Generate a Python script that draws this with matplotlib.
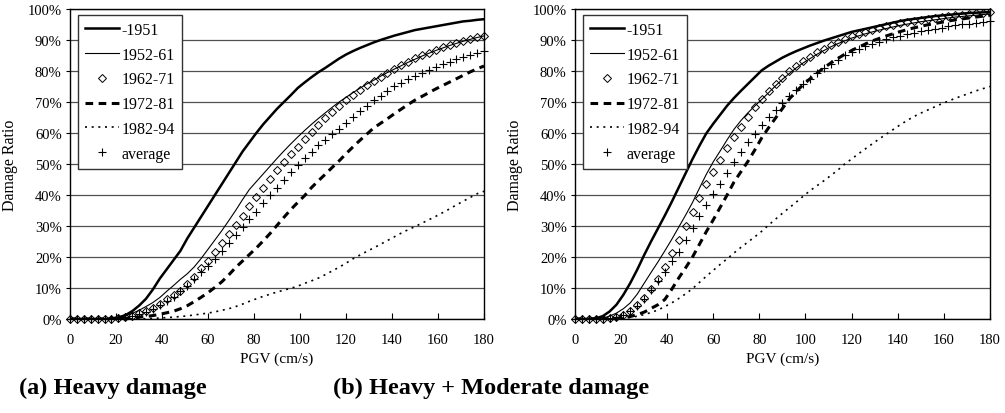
import numpy as np
import matplotlib
matplotlib.use("Agg")
import matplotlib.pyplot as plt
from matplotlib.ticker import PercentFormatter

plt.rcParams['font.family'] = ['Liberation Serif', 'DejaVu Serif']

# PGV (cm/s), one sample every 3 cm/s
pgv = np.arange(0, 181, 3)

# (a) heavy damage ratio, %
heavy_1951 = [0, 0, 0, 0, 0, 0, 0.2, 0.5, 1.2, 2.5,
              4.3, 6.5, 9.5, 13, 16, 19, 22, 26, 29.5, 33,
              36.5, 40, 43.5, 47, 50.5, 54, 57, 60, 62.8, 65.3,
              67.8, 70, 72.2, 74.5, 76.3, 78, 79.6, 81, 82.5, 84,
              85.3, 86.4, 87.4, 88.3, 89.2, 90, 90.7, 91.4, 92, 92.6,
              93.2, 93.6, 94, 94.4, 94.8, 95.2, 95.6, 96, 96.2, 96.5, 96.7]
heavy_5261 = [0, 0, 0, 0, 0, 0, 0.2, 0.5, 1.1, 1.8,
              2.8, 4.0, 5.3, 6.9, 8.9, 10.8, 12.8, 14.6, 16.8, 19.5,
              22.5, 25.5, 28.5, 31.7, 35.0, 38.5, 41.8, 44.3, 46.8, 49.3,
              51.8, 54.2, 56.5, 58.7, 60.8, 62.8, 64.7, 66.5, 68.3, 70.0,
              71.5, 73.0, 74.4, 75.8, 77.0, 78.3, 79.5, 80.6, 81.7, 82.8,
              83.8, 84.8, 85.7, 86.6, 87.4, 88.2, 88.9, 89.6, 90.2, 90.8, 91.3]
heavy_6271 = [0, 0, 0, 0, 0, 0, 0.1, 0.3, 0.6, 1.1,
              1.8, 2.6, 3.6, 4.8, 6.3, 7.6, 9.0, 11.2, 13.5, 16.3,
              18.8, 21.7, 24.5, 27.4, 30.4, 33.3, 36.3, 39.2, 42.2, 45.2,
              47.9, 50.6, 53.1, 55.5, 58.1, 60.4, 62.7, 64.7, 66.8, 68.8,
              70.6, 72.3, 73.9, 75.4, 76.8, 78.2, 79.4, 80.6, 81.9, 83.0,
              84.1, 85.0, 85.9, 86.8, 87.6, 88.3, 89.0, 89.7, 90.3, 90.9, 91.4]
heavy_7281 = [0, 0, 0, 0, 0, 0, 0, 0.1, 0.2, 0.4,
              0.6, 0.8, 1.1, 1.5, 2.0, 2.5, 3.3, 4.3, 5.6, 7.0,
              8.5, 10.2, 12.0, 14.2, 16.6, 18.7, 20.8, 22.9, 25.2, 27.6,
              30.2, 32.8, 35.3, 37.6, 39.8, 42.4, 44.6, 46.7, 48.9, 51.0,
              53.3, 55.5, 57.6, 59.6, 61.6, 63.1, 64.6, 66.2, 67.7, 69.2,
              70.6, 71.8, 73.0, 74.2, 75.3, 76.4, 77.5, 78.6, 79.7, 80.7, 81.6]
heavy_8294 = [0, 0, 0, 0, 0, 0, 0, 0, 0, 0,
              0.05, 0.1, 0.2, 0.3, 0.45, 0.6, 0.8, 1.0, 1.3, 1.6,
              1.9, 2.3, 2.8, 3.3, 4.0, 4.8, 5.7, 6.5, 7.3, 8.0,
              8.7, 9.3, 9.9, 10.6, 11.5, 12.3, 13.2, 14.3, 15.5, 16.7,
              18.0, 19.4, 20.6, 21.8, 22.9, 24.1, 25.3, 26.5, 27.7, 28.8,
              29.8, 30.9, 32.0, 33.1, 34.3, 35.5, 36.8, 38.0, 39.2, 40.4, 41.2]
heavy_avg = [0, 0, 0, 0, 0, 0, 0.1, 0.3, 0.6, 1.0,
             1.6, 2.4, 3.3, 4.4, 5.7, 7.2, 8.9, 10.8, 12.8, 15.1,
             17.1, 19.4, 21.8, 24.6, 27.0, 29.6, 32.1, 34.5, 37.5, 39.9,
             42.1, 44.9, 47.3, 49.7, 51.9, 54.0, 56.0, 57.8, 59.7, 61.4,
             63.2, 65.1, 67.0, 68.8, 70.6, 72.0, 73.5, 75.0, 76.2, 77.4,
             78.5, 79.5, 80.4, 81.3, 82.2, 83.0, 83.8, 84.5, 85.2, 85.8, 86.4]

# (b) heavy + moderate damage ratio, %
hm_1951 = [0, 0, 0, 0.2, 0.9, 2.4, 4.6, 7.8, 11.6, 15.9,
           20.6, 25.0, 29.2, 33.4, 37.8, 42.4, 47.0, 51.6, 55.9, 59.9,
           63.0, 65.9, 68.8, 71.3, 73.6, 75.8, 78.0, 80.2, 81.7, 83.0,
           84.3, 85.4, 86.4, 87.3, 88.2, 89.0, 89.8, 90.5, 91.2, 91.9,
           92.6, 93.1, 93.6, 94.1, 94.6, 95.1, 95.6, 96.1, 96.5, 96.8,
           97.1, 97.4, 97.7, 97.9, 98.1, 98.3, 98.5, 98.7, 98.8, 98.9, 99.0]
hm_5261 = [0, 0, 0, 0, 0.3, 0.9, 1.9, 3.3, 5.2, 8.0,
           11.5, 15.0, 18.4, 22.0, 25.7, 29.6, 33.5, 37.6, 42.2, 46.7,
           50.7, 54.2, 57.8, 61.2, 64.0, 66.5, 68.7, 70.8, 73.0, 75.2,
           77.3, 79.2, 81.0, 82.6, 84.0, 85.4, 86.6, 87.8, 88.8, 89.7,
           90.6, 91.3, 92.0, 92.6, 93.2, 93.7, 94.2, 94.7, 95.1, 95.5,
           95.9, 96.2, 96.5, 96.8, 97.1, 97.4, 97.6, 97.8, 98.0, 98.2, 98.4]
hm_6271 = [0, 0, 0, 0, 0, 0.2, 0.5, 1.4, 2.7, 4.5,
           6.8, 9.7, 13.0, 16.9, 21.3, 25.5, 30.0, 34.4, 39.1, 43.4,
           47.5, 51.3, 55.2, 58.7, 62.0, 65.0, 68.3, 71.0, 73.6, 75.8,
           77.8, 80.0, 81.7, 83.3, 84.6, 86.0, 87.2, 88.4, 89.5, 90.4,
           91.2, 92.0, 92.6, 93.2, 93.8, 94.4, 94.9, 95.4, 95.8, 96.2,
           96.5, 96.8, 97.1, 97.4, 97.7, 97.9, 98.2, 98.4, 98.6, 98.8, 99.0]
hm_7281 = [0, 0, 0, 0, 0, 0, 0.2, 0.4, 0.8, 1.4,
           2.2, 3.4, 4.6, 6.3, 9.6, 13.2, 16.5, 20.0, 24.1, 28.2,
           32.0, 36.0, 40.0, 44.2, 47.5, 50.8, 54.5, 58.4, 61.7, 64.8,
           67.9, 71.0, 73.4, 75.6, 77.5, 79.3, 81.0, 82.6, 84.0, 85.4,
           86.6, 87.7, 88.7, 89.7, 90.5, 91.3, 92.0, 92.7, 93.3, 93.9,
           94.4, 94.9, 95.3, 95.7, 96.1, 96.5, 96.8, 97.1, 97.4, 97.7, 98.0]
hm_8294 = [0, 0, 0, 0, 0, 0, 0.1, 0.3, 0.5, 0.9,
           1.4, 2.1, 2.9, 4.0, 5.2, 6.6, 8.1, 9.8, 11.8, 13.8,
           15.7, 17.6, 19.4, 21.3, 23.1, 24.8, 26.5, 28.3, 30.3, 32.2,
           34.1, 35.9, 37.7, 39.6, 41.4, 43.0, 44.6, 46.3, 48.0, 50.0,
           51.6, 53.3, 54.9, 56.5, 58.1, 59.6, 61.1, 62.6, 64.0, 65.3,
           66.4, 67.4, 68.4, 69.4, 70.3, 71.2, 72.0, 72.8, 73.6, 74.3, 75.0]
hm_avg = [0, 0, 0, 0, 0, 0.2, 0.5, 1.3, 2.5, 4.2,
          6.6, 9.3, 12.4, 15.2, 18.7, 21.7, 25.4, 29.5, 33.2, 36.8,
          40.3, 43.6, 47.1, 50.5, 53.9, 57.0, 59.7, 62.5, 65.1, 67.5,
          69.7, 71.8, 73.9, 75.8, 77.4, 79.3, 80.9, 82.3, 83.6, 85.0,
          86.1, 87.1, 88.0, 88.8, 89.5, 90.2, 90.8, 91.3, 91.8, 92.3,
          92.8, 93.2, 93.6, 94.0, 94.4, 94.7, 95.0, 95.3, 95.6, 95.9, 96.2]

labels = ['-1951', '1952-61', '1962-71', '1972-81', '1982-94', 'average']


def draw_panel(ax, s1, s2, s3, s4, s5, s6):
    ax.plot(pgv, s1, color='black', lw=1.8, label=labels[0])
    ax.plot(pgv, s2, color='black', lw=0.8, label=labels[1])
    ax.plot(pgv, s3, ls='none', marker='D', ms=3.6, mfc='none', mec='black',
            mew=0.7, label=labels[2], clip_on=False)
    ax.plot(pgv, s4, color='black', lw=2.2, dashes=(2.5, 1.8), label=labels[3])
    ax.plot(pgv, s5, color='black', lw=1.2, dashes=(1.2, 2.8), label=labels[4])
    ax.plot(pgv, s6, ls='none', marker='+', ms=6, mew=0.8, color='black',
            label=labels[5], clip_on=False)

    ax.set_xlim(0, 180)
    ax.set_ylim(0, 100)
    ax.set_xticks(range(0, 181, 20))
    ax.set_yticks(range(0, 101, 10))
    ax.yaxis.set_major_formatter(PercentFormatter(xmax=100, decimals=0))
    ax.yaxis.grid(True, color='#505050', lw=0.9)
    ax.set_axisbelow(True)
    ax.tick_params(axis='x', direction='in', length=4, pad=10, labelsize=10.5)
    ax.tick_params(axis='y', direction='out', length=3, pad=3, labelsize=10.5)
    for sp in ax.spines.values():
        sp.set_color('black')
        sp.set_linewidth(1.0)
    ax.set_xlabel('PGV (cm/s)', fontsize=11, labelpad=4)
    ax.set_ylabel('Damage Ratio', fontsize=11.5, labelpad=7)

    leg = ax.legend(loc='upper left', bbox_to_anchor=(0.019, 0.982), borderaxespad=0,
                    fontsize=11.5, handlelength=2.1, handletextpad=0.2, labelspacing=0.55,
                    borderpad=0.45, fancybox=False, framealpha=1, edgecolor='#333333')
    leg.get_frame().set_linewidth(1.0)


fig = plt.figure(figsize=(10.05, 4.14), dpi=100)
ax1 = fig.add_axes([0.0697, 0.2271, 0.4119, 0.7488])
ax2 = fig.add_axes([0.5721, 0.2271, 0.4129, 0.7488])

draw_panel(ax1, heavy_1951, heavy_5261, heavy_6271, heavy_7281, heavy_8294, heavy_avg)
draw_panel(ax2, hm_1951, hm_5261, hm_6271, hm_7281, hm_8294, hm_avg)

fig.text(19 / 1005, 1 - 388 / 414, '(a) Heavy damage', fontsize=17.5, fontweight='bold',
         ha='left', va='center')
fig.text(333 / 1005, 1 - 388 / 414, '(b) Heavy + Moderate damage', fontsize=17.5,
         fontweight='bold', ha='left', va='center')

fig.savefig('out.png', dpi=100)
